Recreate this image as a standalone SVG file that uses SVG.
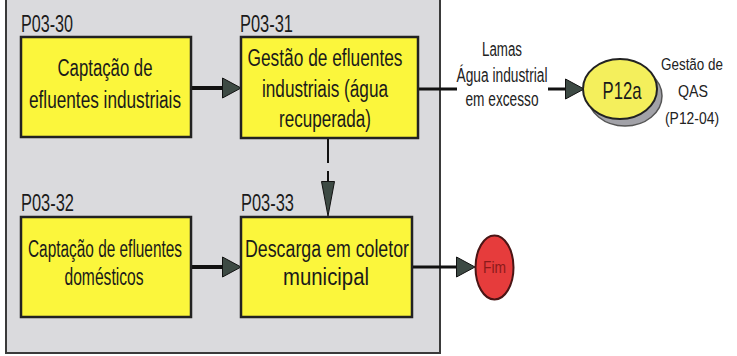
<svg xmlns="http://www.w3.org/2000/svg" width="737" height="356" viewBox="0 0 737 356">
<defs>
<style>
.bg{fill:#ffffff}
.panel{fill:#dadadd;stroke:#3a3a3a;stroke-width:2}
.box{fill:#fbf63c;stroke:#222;stroke-width:2.5}
.t{font-family:"Liberation Sans Narrow","Liberation Sans",Arial,sans-serif;fill:#1a1a1a}
.bt{font-size:23px;text-anchor:middle}
.lb{font-size:23px}
.st{font-size:20px;text-anchor:middle;fill:#222}
.qs{font-size:17px;text-anchor:middle;fill:#222}
.thick{fill:none;stroke:#111;stroke-width:4}
.thin{fill:none;stroke:#111;stroke-width:3}
.vline{fill:none;stroke:#111;stroke-width:2}
.head{fill:#3d4a44;stroke:#111;stroke-width:1}
</style>
<marker id="ah" markerUnits="userSpaceOnUse" markerWidth="20" markerHeight="22" refX="0" refY="11" orient="auto" viewBox="0 0 20 22">
<path class="head" d="M0.5,1 L19,11 L0.5,21 Z"/>
</marker>
<marker id="ahv" markerUnits="userSpaceOnUse" markerWidth="36" markerHeight="14" refX="0" refY="7" orient="auto" viewBox="0 0 36 14">
<path class="head" d="M0.5,0.5 L35,7 L0.5,13.5 Z"/>
</marker>
</defs>
<rect class="bg" x="0" y="0" width="737" height="356"/>
<rect class="panel" x="6" y="-5" width="434" height="358"/>

<g id="connectors">
<path class="thick" d="M191,88 H222" marker-end="url(#ah)"/>
<path class="thick" d="M191,267 H222" marker-end="url(#ah)"/>
<path class="thin" d="M418,89 H457"/>
<path class="thin" d="M548,89 H565" marker-end="url(#ah)"/>
<path class="thin" d="M412,267 H456" marker-end="url(#ah)"/>
<path class="vline" d="M328,138 V163"/>
<path class="vline" d="M328,171 V181" marker-end="url(#ahv)"/>
</g>

<g id="P03-30">
<text class="t lb" x="21" y="32" textLength="52" lengthAdjust="spacingAndGlyphs">P03-30</text>
<rect class="box" x="21" y="37" width="170" height="100"/>
<text class="t bt" x="105" y="76" textLength="95" lengthAdjust="spacingAndGlyphs">Captação de</text>
<text class="t bt" x="105" y="108" textLength="152" lengthAdjust="spacingAndGlyphs">efluentes industriais</text>
</g>

<g id="P03-31">
<text class="t lb" x="240" y="32" textLength="53" lengthAdjust="spacingAndGlyphs">P03-31</text>
<rect class="box" x="241" y="37" width="177" height="101"/>
<text class="t bt" x="325" y="66" textLength="155" lengthAdjust="spacingAndGlyphs">Gestão de efluentes</text>
<text class="t bt" x="325" y="97" textLength="126" lengthAdjust="spacingAndGlyphs">industriais (água</text>
<text class="t bt" x="325" y="127" textLength="92" lengthAdjust="spacingAndGlyphs">recuperada)</text>
</g>

<g id="P03-32">
<text class="t lb" x="21" y="211" textLength="53" lengthAdjust="spacingAndGlyphs">P03-32</text>
<rect class="box" x="21" y="217" width="170" height="100"/>
<text class="t bt" x="105" y="257" textLength="154" lengthAdjust="spacingAndGlyphs">Captação de efluentes</text>
<text class="t bt" x="104" y="285" textLength="79" lengthAdjust="spacingAndGlyphs">domésticos</text>
</g>

<g id="P03-33">
<text class="t lb" x="241" y="211" textLength="53" lengthAdjust="spacingAndGlyphs">P03-33</text>
<rect class="box" x="241" y="217" width="171" height="100"/>
<text class="t bt" x="327" y="257" textLength="164" lengthAdjust="spacingAndGlyphs">Descarga em coletor</text>
<text class="t bt" x="326" y="285" textLength="86" lengthAdjust="spacingAndGlyphs">municipal</text>
</g>

<g id="flow-label">
<text class="t st" x="502" y="56" textLength="40" lengthAdjust="spacingAndGlyphs">Lamas</text>
<text class="t st" x="502" y="82" textLength="91" lengthAdjust="spacingAndGlyphs">Água industrial</text>
<text class="t st" x="502" y="106" textLength="73" lengthAdjust="spacingAndGlyphs">em excesso</text>
</g>

<g id="P12a">
<ellipse cx="625" cy="96" rx="37" ry="30" fill="#a2a2a8" stroke="#555" stroke-width="1.5"/>
<ellipse cx="620" cy="89" rx="37" ry="30" fill="#f4ef5c" stroke="#222" stroke-width="2"/>
<text class="t" x="622" y="99" font-size="24" text-anchor="middle" textLength="39" lengthAdjust="spacingAndGlyphs">P12a</text>
</g>

<g id="QAS-label">
<text class="t qs" x="692" y="70" textLength="62" lengthAdjust="spacingAndGlyphs">Gestão de</text>
<text class="t qs" x="693" y="97" textLength="30" lengthAdjust="spacingAndGlyphs">QAS</text>
<text class="t qs" x="692" y="124" textLength="54" lengthAdjust="spacingAndGlyphs">(P12-04)</text>
</g>

<g id="Fim">
<ellipse cx="494.5" cy="267.5" rx="19" ry="32" fill="#e63c3c" stroke="#4a1515" stroke-width="2"/>
<text class="t" x="494.5" y="273" font-size="16" text-anchor="middle" style="fill:#8b1a1a" textLength="23" lengthAdjust="spacingAndGlyphs">Fim</text>
</g>
</svg>
